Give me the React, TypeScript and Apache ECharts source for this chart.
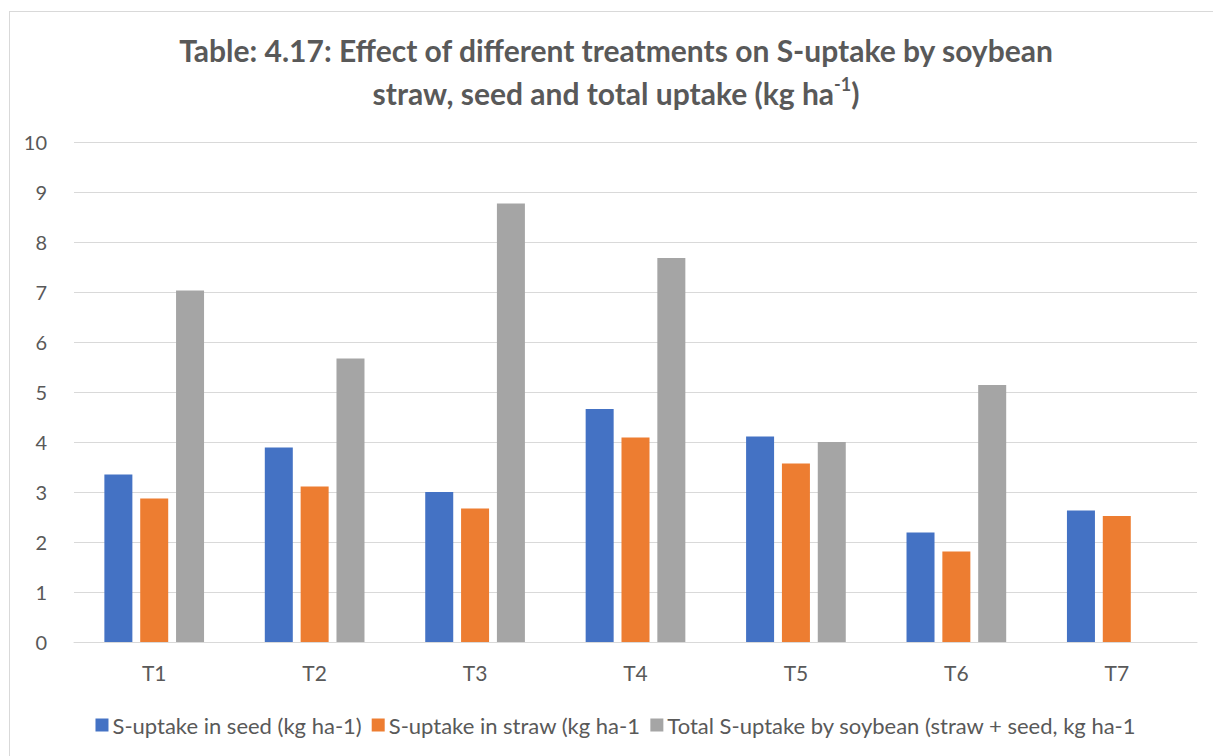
import React, { useEffect, useRef } from "react";
import * as echarts from "echarts";

const categories = ["T1", "T2", "T3", "T4", "T5", "T6", "T7"];
const seedUptake = [3.35, 3.89, 3.0, 4.66, 4.11, 2.19, 2.63];
const strawUptake = [2.87, 3.11, 2.67, 4.09, 3.57, 1.81, 2.52];
const totalUptake: (number | null)[] = [7.03, 5.67, 8.77, 7.68, 4.0, 5.14, null];
const seriesNames = [
  "S-uptake in seed (kg ha-1)",
  "S-uptake in straw (kg ha-1",
  "Total S-uptake by soybean (straw + seed, kg ha-1",
];
const colors = ["#4472C4", "#ED7D31", "#A5A5A5"];
const titleLine1 = "Table: 4.17: Effect of different treatments on S-uptake by soybean";
const titleLine2 = "straw, seed and total uptake (kg ha";

const FONT = "Lato, 'Open Sans', sans-serif";

export default function App() {
  const ref = useRef<HTMLDivElement>(null);
  useEffect(() => {
    if (!ref.current) return;
    const chart = echarts.init(ref.current, undefined, { renderer: "svg" });
    const values = [seedUptake, strawUptake, totalUptake];
    chart.setOption({
      animation: false,
      backgroundColor: "#ffffff",
      textStyle: { fontFamily: FONT },
      title: [
        {
          text: titleLine1,
          left: "center",
          top: 18,
          textStyle: { fontFamily: FONT, fontSize: 30, fontWeight: "bold", color: "#595959" },
        },
        {
          text: "{a|" + titleLine2 + "}{s|-1}{a|)}",
          left: "center",
          top: 58,
          textStyle: {
            rich: {
              a: { fontFamily: FONT, fontSize: 30, fontWeight: "bold", color: "#595959", lineHeight: 36 },
              s: {
                fontFamily: FONT,
                fontSize: 18,
                fontWeight: "bold",
                color: "#595959",
                verticalAlign: "top",
                padding: [0, 0, 12, 0],
                lineHeight: 36,
              },
            },
          },
        },
      ],
      legend: {
        bottom: 21,
        left: "center",
        itemWidth: 13,
        itemHeight: 13,
        itemGap: 10,
        icon: "rect",
        textStyle: { fontFamily: FONT, fontSize: 22, color: "#595959", padding: [0, 0, 0, -1] },
        data: seriesNames,
      },
      grid: { left: 64, right: 25, top: 130, bottom: 120, containLabel: false },
      xAxis: {
        type: "category",
        data: categories,
        axisLine: { lineStyle: { color: "#d9d9d9", width: 1 } },
        axisTick: { show: false },
        axisLabel: { color: "#595959", fontSize: 21, fontFamily: FONT, margin: 20 },
      },
      yAxis: {
        type: "value",
        min: 0,
        max: 10,
        interval: 1,
        axisLine: { show: false },
        axisTick: { show: false },
        axisLabel: { color: "#595959", fontSize: 20, fontFamily: FONT, margin: 27 },
        splitLine: { lineStyle: { color: "#d9d9d9", width: 1 } },
      },
      series: seriesNames.map((name, i) => ({
        name,
        type: "bar",
        data: values[i],
        barWidth: 28,
        barGap: "28%",
        itemStyle: { color: colors[i] },
      })),
    });
    return () => chart.dispose();
  }, []);

  return (
    <div
      style={{
        position: "fixed",
        left: 0,
        top: 0,
        width: 1213,
        height: 756,
        overflow: "hidden",
        background: "#ffffff",
      }}
    >
      <div
        style={{
          position: "absolute",
          left: 9,
          top: 11,
          width: 1214,
          height: 752,
          border: "1px solid #d9d9d9",
          boxSizing: "border-box",
        }}
      >
        <div ref={ref} style={{ width: 1212, height: 750 }} />
      </div>
    </div>
  );
}
